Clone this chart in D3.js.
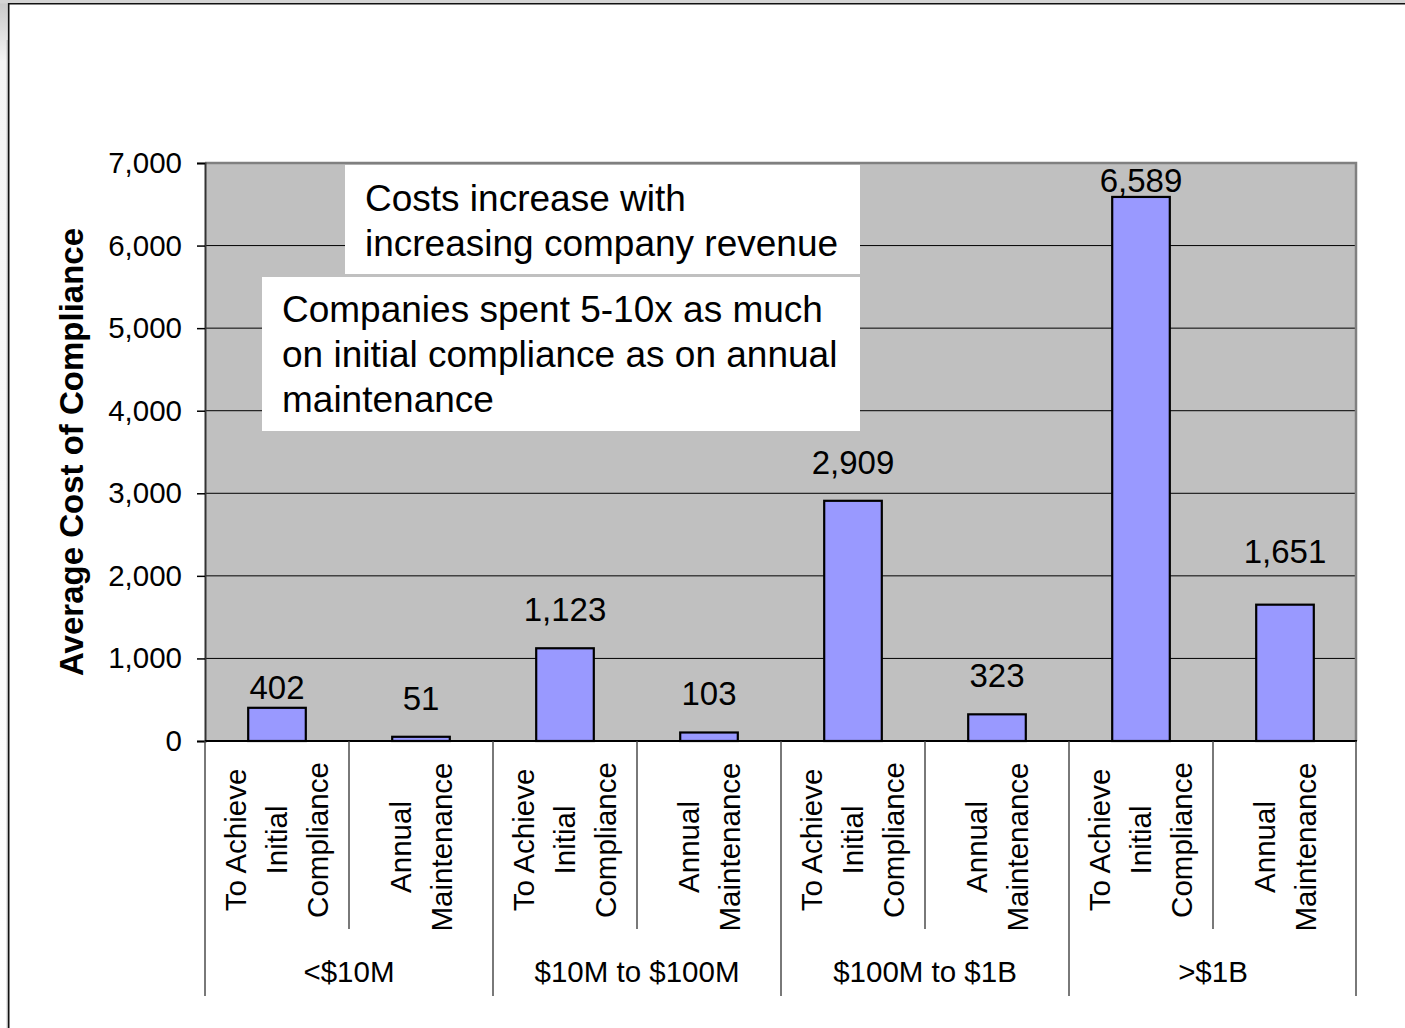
<!DOCTYPE html>
<html>
<head>
<meta charset="utf-8">
<script src="https://cdn.jsdelivr.net/npm/d3@7/dist/d3.min.js"></script>
<style>
  html, body { margin: 0; padding: 0; background: #fff; }
  svg { display: block; font-family: "Liberation Sans", Arial, sans-serif; }
</style>
</head>
<body>
<svg id="chart" width="1405" height="1028"></svg>
<script>
// ---- data ----
const groups = ["<$10M", "$10M to $100M", "$100M to $1B", ">$1B"];
const categoryLines = [
  ["To Achieve", "Initial", "Compliance"],
  ["Annual", "Maintenance"]
];
const categoryGroup = [0, 0, 1, 1, 2, 2, 3, 3];
const categoryKind = [0, 1, 0, 1, 0, 1, 0, 1];
const values = [402, 51, 1123, 103, 2909, 323, 6589, 1651];
const yTicks = [0, 1000, 2000, 3000, 4000, 5000, 6000, 7000];
const yTitle = "Average Cost of Compliance";
const noteTop = ["Costs increase with", "increasing company revenue"];
const noteBottom = ["Companies spent 5-10x as much", "on initial compliance as on annual", "maintenance"];

// ---- layout ----
const W = 1405, H = 1028;
const plot = { left: 205, right: 1357, top: 163, bottom: 741 };
const labelNudge = [18, 0, 0, 0, 0, 0, 22, -15];

const svg = d3.select("#chart");

// page frame
const defs = svg.append("defs");
const grad = defs.append("linearGradient").attr("id", "edge").attr("x1", 0).attr("y1", 0).attr("x2", 0).attr("y2", 1);
grad.append("stop").attr("offset", "0").attr("stop-color", "#c8c8c8");
grad.append("stop").attr("offset", "0.06").attr("stop-color", "#f4f4f4");
grad.append("stop").attr("offset", "1").attr("stop-color", "#ffffff");
svg.append("rect").attr("x", 0).attr("y", 0).attr("width", 9).attr("height", H).attr("fill", "url(#edge)");
svg.append("rect").attr("x", 0).attr("y", 0).attr("width", W).attr("height", 3.5).attr("fill", "#d4d4d4");
svg.append("line").attr("x1", 7.2).attr("x2", 7.2).attr("y1", 40).attr("y2", H).attr("stroke", "#b0b0b0").attr("stroke-width", 1);
svg.append("line").attr("x1", 8.7).attr("x2", 8.7).attr("y1", 3).attr("y2", H).attr("stroke", "#111").attr("stroke-width", 1.6);
svg.append("line").attr("x1", 8).attr("x2", W).attr("y1", 3.8).attr("y2", 3.8).attr("stroke", "#111").attr("stroke-width", 1.6);

// scales
const y = d3.scaleLinear().domain([0, 7000]).range([plot.bottom, plot.top]);
const xBar = d3.scaleBand().domain(d3.range(values.length)).range([plot.left, plot.right])
  .paddingInner(0.6).paddingOuter(0.3);
const xCat = d3.scaleBand().domain(d3.range(values.length)).range([plot.left, plot.right]);
const xGroup = d3.scaleBand().domain(groups).range([plot.left, plot.right]);

// plot background
svg.append("rect")
  .attr("x", plot.left).attr("y", plot.top)
  .attr("width", plot.right - plot.left).attr("height", plot.bottom - plot.top)
  .attr("fill", "#c0c0c0");

// gridlines
svg.append("g").selectAll("line")
  .data(yTicks.filter(t => t > 0 && t < 7000))
  .join("line")
  .attr("x1", plot.left).attr("x2", plot.right)
  .attr("y1", d => y(d)).attr("y2", d => y(d))
  .attr("stroke", "#000").attr("stroke-width", 1);

// plot border (top and right)
svg.append("path")
  .attr("d", `M${plot.left},${plot.top}H${plot.right - 1}V${plot.bottom}`)
  .attr("fill", "none").attr("stroke", "#808080").attr("stroke-width", 2.5);

// annotation boxes
function note(lines, x0, y0, x1, y1, tx, firstBase) {
  svg.append("rect").attr("x", x0).attr("y", y0).attr("width", x1 - x0).attr("height", y1 - y0).attr("fill", "#fff");
  svg.append("text")
    .attr("font-size", 37).attr("fill", "#000")
    .selectAll("tspan").data(lines).join("tspan")
    .attr("x", tx).attr("y", (d, i) => firstBase + i * 45)
    .text(d => d);
}
note(noteTop, 345, 165, 860, 274, 365, 211);
note(noteBottom, 262, 277, 860, 431, 282, 322);

// bars
svg.append("g").selectAll("rect")
  .data(values)
  .join("rect")
  .attr("x", (d, i) => xBar(i))
  .attr("y", d => y(d))
  .attr("width", xBar.bandwidth())
  .attr("height", d => y(0) - y(d))
  .attr("fill", "#9999ff")
  .attr("stroke", "#000").attr("stroke-width", 2.2);

// value labels
svg.append("g").selectAll("text")
  .data(values)
  .join("text")
  .attr("x", (d, i) => xBar(i) + xBar.bandwidth() / 2)
  .attr("y", (d, i) => y(d) - 39 + labelNudge[i] + 12)
  .attr("text-anchor", "middle")
  .attr("font-size", 33)
  .attr("fill", "#000")
  .text(d => d3.format(",")(d));

// y axis
const yAxis = svg.append("g")
  .attr("transform", `translate(${plot.left},0)`)
  .call(d3.axisLeft(y).tickValues(yTicks).tickFormat(d3.format(",")).tickSize(8).tickPadding(15));
yAxis.select(".domain").attr("stroke", "#333").attr("stroke-width", 2);
yAxis.selectAll(".tick line").attr("stroke", "#000").attr("stroke-width", 1.5);
yAxis.selectAll(".tick text")
  .attr("font-size", 29.5).attr("fill", "#000")
  .attr("font-family", "'Liberation Sans', Arial, sans-serif");

// zero baseline
svg.append("line")
  .attr("x1", plot.left).attr("x2", plot.right)
  .attr("y1", y(0)).attr("y2", y(0))
  .attr("stroke", "#000").attr("stroke-width", 1.8);

// y title
svg.append("text")
  .attr("transform", `translate(71,${(plot.top + plot.bottom) / 2}) rotate(-90)`)
  .attr("text-anchor", "middle")
  .attr("dominant-baseline", "central")
  .attr("font-size", 33).attr("font-weight", "bold")
  .text(yTitle);

// category separators (within groups) and group separators
const catSep = d3.range(values.length).filter(i => i % 2 === 1).map(i => xCat(i));
svg.append("g").selectAll("line")
  .data(catSep).join("line")
  .attr("x1", d => d).attr("x2", d => d)
  .attr("y1", plot.bottom).attr("y2", 929)
  .attr("stroke", "#404040").attr("stroke-width", 1.4);
const groupSep = groups.map(g => xGroup(g)).concat([plot.right - 1]);
svg.append("g").selectAll("line")
  .data(groupSep).join("line")
  .attr("x1", d => d).attr("x2", d => d)
  .attr("y1", plot.bottom).attr("y2", 996)
  .attr("stroke", "#404040").attr("stroke-width", 1.4);

// category labels (rotated, multi-line); two-line labels sit a little lower
const lineStep = 41;
const catG = svg.append("g").selectAll("text")
  .data(values.map((v, i) => categoryLines[categoryKind[i]]))
  .join("text")
  .attr("transform", (d, i) => `translate(${xCat(i) + xCat.bandwidth() / 2},${d.length === 2 ? 847 : 840}) rotate(-90)`)
  .attr("text-anchor", "middle")
  .attr("font-size", 29.5)
  .attr("fill", "#000");
catG.selectAll("tspan")
  .data(d => d.map((t, j) => ({ t, j, n: d.length })))
  .join("tspan")
  .attr("x", 0)
  .attr("y", d => (d.j - (d.n - 1) / 2) * lineStep + 10)
  .text(d => d.t);

// group labels
svg.append("g").selectAll("text")
  .data(groups).join("text")
  .attr("x", d => xGroup(d) + xGroup.bandwidth() / 2)
  .attr("y", 982)
  .attr("text-anchor", "middle")
  .attr("font-size", 29.5)
  .attr("fill", "#000")
  .text(d => d);
</script>
</body>
</html>
